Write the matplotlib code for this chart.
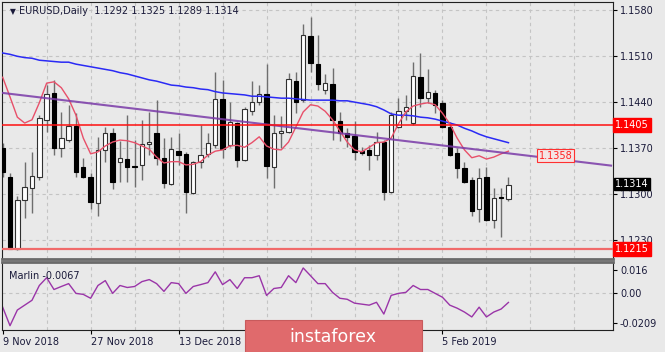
import numpy as np
import matplotlib
matplotlib.use("Agg")
import matplotlib.pyplot as plt
from matplotlib.patches import Rectangle

# EURUSD daily candles, 9 Nov 2018 .. 18 Feb 2019
opens = [1.1370, 1.1326, 1.1215, 1.1290, 1.1309, 1.1326, 1.1413, 1.1454, 1.1370, 1.1382,
         1.1404, 1.1341, 1.1326, 1.1286, 1.1367, 1.1393, 1.1348, 1.1353, 1.1343, 1.1344,
         1.1376, 1.1393, 1.1355, 1.1315, 1.1366, 1.1361, 1.1301, 1.1348, 1.1361, 1.1374,
         1.1445, 1.1374, 1.1408, 1.1351, 1.1427, 1.1440, 1.1452, 1.1341, 1.1393, 1.1394,
         1.1472, 1.1443, 1.1541, 1.1498, 1.1459, 1.1468, 1.1411, 1.1393, 1.1388, 1.1365,
         1.1367, 1.1359, 1.1379, 1.1303, 1.1402, 1.1426, 1.1408, 1.1478, 1.1446, 1.1454,
         1.1439, 1.1402, 1.1362, 1.1339, 1.1321, 1.1277, 1.1326, 1.1260, 1.1295, 1.1292]
highs = [1.1378, 1.1331, 1.1297, 1.1348, 1.1364, 1.1420, 1.1466, 1.1474, 1.1425, 1.1436,
         1.1423, 1.1355, 1.1332, 1.1387, 1.1402, 1.1400, 1.1381, 1.1420, 1.1382, 1.1412,
         1.1425, 1.1443, 1.1385, 1.1387, 1.1393, 1.1364, 1.1350, 1.1405, 1.1393, 1.1486,
         1.1474, 1.1440, 1.1410, 1.1432, 1.1472, 1.1466, 1.1498, 1.1420, 1.1419, 1.1484,
         1.1486, 1.1559, 1.1570, 1.1542, 1.1483, 1.1492, 1.1425, 1.1400, 1.1411, 1.1371,
         1.1374, 1.1394, 1.1382, 1.1425, 1.1446, 1.1451, 1.1502, 1.1515, 1.1490, 1.1458,
         1.1443, 1.1410, 1.1370, 1.1348, 1.1325, 1.1339, 1.1341, 1.1309, 1.1309, 1.1325]
lows = [1.1326, 1.1215, 1.1214, 1.1263, 1.1271, 1.1321, 1.1394, 1.1359, 1.1356, 1.1379,
        1.1325, 1.1324, 1.1277, 1.1266, 1.1348, 1.1307, 1.1318, 1.1318, 1.1310, 1.1321,
        1.1359, 1.1344, 1.1309, 1.1313, 1.1344, 1.1271, 1.1299, 1.1339, 1.1356, 1.1370,
        1.1355, 1.1371, 1.1341, 1.1350, 1.1420, 1.1436, 1.1324, 1.1309, 1.1370, 1.1393,
        1.1423, 1.1440, 1.1486, 1.1458, 1.1452, 1.1382, 1.1381, 1.1371, 1.1351, 1.1359,
        1.1336, 1.1351, 1.1290, 1.1301, 1.1400, 1.1413, 1.1405, 1.1432, 1.1438, 1.1423,
        1.1400, 1.1358, 1.1324, 1.1316, 1.1266, 1.1257, 1.1259, 1.1247, 1.1234, 1.1289]
closes = [1.1333, 1.1216, 1.1290, 1.1310, 1.1327, 1.1416, 1.1452, 1.1370, 1.1385, 1.1404,
          1.1333, 1.1325, 1.1287, 1.1367, 1.1393, 1.1318, 1.1355, 1.1341, 1.1341, 1.1376,
          1.1379, 1.1355, 1.1316, 1.1368, 1.1359, 1.1303, 1.1348, 1.1359, 1.1378, 1.1445,
          1.1368, 1.1409, 1.1351, 1.1429, 1.1440, 1.1452, 1.1342, 1.1393, 1.1396, 1.1475,
          1.1440, 1.1543, 1.1500, 1.1468, 1.1469, 1.1413, 1.1393, 1.1387, 1.1364, 1.1362,
          1.1359, 1.1379, 1.1303, 1.1420, 1.1426, 1.1432, 1.1480, 1.1446, 1.1455, 1.1436,
          1.1402, 1.1359, 1.1339, 1.1318, 1.1274, 1.1324, 1.1260, 1.1293, 1.1293, 1.1314]

ma_slow = [1.1515, 1.1513, 1.1510, 1.1508, 1.1507, 1.1504, 1.1503, 1.1502, 1.1501, 1.1501,
           1.1498, 1.1496, 1.1494, 1.1492, 1.1490, 1.1488, 1.1485, 1.1483, 1.1480, 1.1477,
           1.1474, 1.1472, 1.1469, 1.1466, 1.1465, 1.1463, 1.1462, 1.1460, 1.1459, 1.1456,
           1.1454, 1.1453, 1.1452, 1.1451, 1.1449, 1.1449, 1.1448, 1.1447, 1.1446, 1.1446,
           1.1445, 1.1444, 1.1443, 1.1443, 1.1443, 1.1443, 1.1442, 1.1442, 1.1440, 1.1438,
           1.1436, 1.1433, 1.1428, 1.1422, 1.1420, 1.1420, 1.1419, 1.1417, 1.1416, 1.1414,
           1.1411, 1.1408, 1.1405, 1.1400, 1.1396, 1.1391, 1.1387, 1.1384, 1.1381, 1.1378]
ma_fast = [1.1478, 1.1448, 1.1417, 1.1408, 1.1413, 1.1439, 1.1469, 1.1471, 1.1462, 1.1445,
           1.1420, 1.1385, 1.1361, 1.1364, 1.1373, 1.1379, 1.1382, 1.1381, 1.1378, 1.1373,
           1.1368, 1.1356, 1.1347, 1.1349, 1.1349, 1.1344, 1.1345, 1.1349, 1.1359, 1.1365,
           1.1367, 1.1373, 1.1374, 1.1371, 1.1378, 1.1387, 1.1373, 1.1368, 1.1367, 1.1379,
           1.1402, 1.1425, 1.1436, 1.1434, 1.1426, 1.1413, 1.1396, 1.1379, 1.1367, 1.1364,
           1.1371, 1.1378, 1.1379, 1.1385, 1.1407, 1.1425, 1.1434, 1.1437, 1.1439, 1.1436,
           1.1423, 1.1407, 1.1385, 1.1367, 1.1355, 1.1358, 1.1353, 1.1356, 1.1361, 1.1365]
marlin = [-0.0100, -0.0229, -0.0120, -0.0086, -0.0052, 0.0051, 0.0105, 0.0023, 0.0044, 0.0064,
          -0.0004, -0.0011, -0.0038, 0.0051, 0.0085, -0.0004, 0.0051, 0.0037, 0.0044, 0.0078,
          0.0092, 0.0064, 0.0010, 0.0071, 0.0064, -0.0004, 0.0044, 0.0057, 0.0071, 0.0146,
          0.0057, 0.0092, 0.0030, 0.0105, 0.0105, 0.0119, -0.0018, 0.0030, 0.0037, 0.0119,
          0.0071, 0.0173, 0.0119, 0.0064, 0.0064, 0.0003, -0.0038, -0.0045, -0.0072, -0.0079,
          -0.0086, -0.0066, -0.0148, -0.0018, -0.0004, 0.0003, 0.0051, 0.0023, 0.0023, -0.0004,
          -0.0031, -0.0086, -0.0107, -0.0134, -0.0168, -0.0100, -0.0168, -0.0134, -0.0113, -0.0067]

trend_bars = [0, 83]
trend_prices = [1.1454, 1.1343]
resistance = 1.1405
support = 1.1215
trend_label = 1.1358

# the labels under the watermark (2 Jan, 18 Jan) are not visible in the picture
date_bars = [0, 12, 24, 60]
date_labels = ["9 Nov 2018", "27 Nov 2018", "13 Dec 2018", "5 Feb 2019"]
price_ticks = [1.1230, 1.1300, 1.1370, 1.1440, 1.1510, 1.1580]

bg = "#e9e9e9"
grid_c = "#c4c4c4"
txt_c = "#1a1a3a"
n = len(closes)
x = np.arange(n)

fig = plt.figure(figsize=(6.65, 3.52), dpi=100, facecolor=bg)
ax = fig.add_axes([0.00346, 0.2642, 0.9183, 0.7293], facecolor=bg)
ax2 = fig.add_axes([0.00346, 0.0625, 0.9183, 0.1932], facecolor=bg, sharex=ax)

# candles
o = np.array(opens); c = np.array(closes)
up = c >= o
ax.vlines(x, lows, highs, color="#6e6e6e", lw=1, zorder=2)
body_lo = np.minimum(o, c)
body_h = np.maximum(np.abs(c - o), 0.00008)
ax.bar(x[up], body_h[up], 0.6, bottom=body_lo[up], color="white", edgecolor="#303030", lw=0.8, zorder=3)
ax.bar(x[~up], body_h[~up], 0.6, bottom=body_lo[~up], color="black", edgecolor="black", lw=0.8, zorder=3)

# indicators
ax.plot(x, ma_slow, color="#2a2af5", lw=1.1, zorder=4)
ax.plot(x, ma_fast, color="#e8506a", lw=1.0, zorder=4)
ax.plot(trend_bars, trend_prices, color="#7a3aa8", lw=1.5, alpha=0.85, zorder=4)
ax.axhline(resistance, color="#ff1010", lw=1.1, zorder=5)
ax.axhline(support, color="#f06a6a", lw=1.6, zorder=5)

ax.set_xlim(-0.05, 83.26)
ax.set_ylim(1.12003, 1.15925)

for v in price_ticks:
    ax.axhline(v, color=grid_c, lw=0.8, ls=(0, (3, 3)), zorder=0)
for b in range(6, 84, 6):
    ax.axvline(b, color=grid_c, lw=0.8, ls=(0, (3, 3)), zorder=0)
    ax2.axvline(b, color=grid_c, lw=0.8, ls=(0, (3, 3)), zorder=0)

ax.yaxis.tick_right()
ax.set_yticks(price_ticks)
ax.set_yticklabels(["%.4f" % v for v in price_ticks])
ax.tick_params(axis="y", length=3, width=0.8, pad=2, labelsize=7, labelcolor=txt_c)
ax.tick_params(axis="x", bottom=False, labelbottom=False)

ax.text(0.012, 0.965, "\u25bc", transform=ax.transAxes, fontsize=5.5, color=txt_c, va="center")
ax.text(0.028, 0.965, "EURUSD,Daily  1.1292 1.1325 1.1289 1.1314", transform=ax.transAxes,
        fontsize=7, color=txt_c, va="center")

# right-side price tags
tag = dict(xycoords=("axes fraction", "data"), ha="left", va="center", fontsize=7, color="white")
ax.annotate("%.4f" % resistance, xy=(1.004, resistance), annotation_clip=False,
            bbox=dict(boxstyle="square,pad=0.2", fc="#ff0000", ec="#ff0000"), **tag)
ax.annotate("%.4f" % support, xy=(1.004, support), annotation_clip=False,
            bbox=dict(boxstyle="square,pad=0.2", fc="#ff0000", ec="#ff0000"), **tag)
ax.annotate("%.4f" % closes[-1], xy=(1.004, closes[-1] + 0.0001), annotation_clip=False,
            bbox=dict(boxstyle="square,pad=0.1", fc="black", ec="black"), **tag)
ax.text(73.1, trend_label, "%.4f" % trend_label, fontsize=7, color="#ff2020", va="center", ha="left",
        bbox=dict(boxstyle="square,pad=0.15", fc="#f4e4e4", ec="#ff3030", lw=0.8), zorder=6)

# Marlin panel
ax2.plot(x, marlin, color="#9a35a8", lw=1.0)
ax2.axhline(0, color=grid_c, lw=0.8, ls=(0, (3, 3)), zorder=0)
ax2.set_ylim(-0.0259, 0.02146)
ax2.yaxis.tick_right()
ax2.set_yticks([0.016, 0.0, -0.0209])
ax2.set_yticklabels(["0.016", "0.00", "-0.0209"])
ax2.tick_params(axis="y", length=3, width=0.8, pad=2, labelsize=7, labelcolor=txt_c)
ax2.set_xticks(date_bars)
ax2.set_xticklabels(date_labels, ha="left")
ax2.tick_params(axis="x", length=3, width=0.8, pad=2, labelsize=7, labelcolor=txt_c)
ax2.text(0.011, 0.8, "Marlin -0.0067", transform=ax2.transAxes, fontsize=7, color=txt_c, va="center")

for a in (ax, ax2):
    for s in a.spines.values():
        s.set_color("#202020")
        s.set_linewidth(0.8)
ax.spines["bottom"].set_color("#6a6a6a")
ax.spines["bottom"].set_linewidth(2)
ax2.spines["top"].set_color("#6a6a6a")
ax2.spines["top"].set_linewidth(2)

# watermark
fig.patches.append(Rectangle((0.368, 0.0), 0.266, 0.091, transform=fig.transFigure,
                             facecolor="#e06a6c", edgecolor="#c85a5c", lw=0.8, zorder=10))
fig.text(0.501, 0.043, "instaforex", color="white", fontsize=12.5, ha="center", va="center", zorder=11)

fig.savefig("out.png", dpi=100, facecolor=bg)
